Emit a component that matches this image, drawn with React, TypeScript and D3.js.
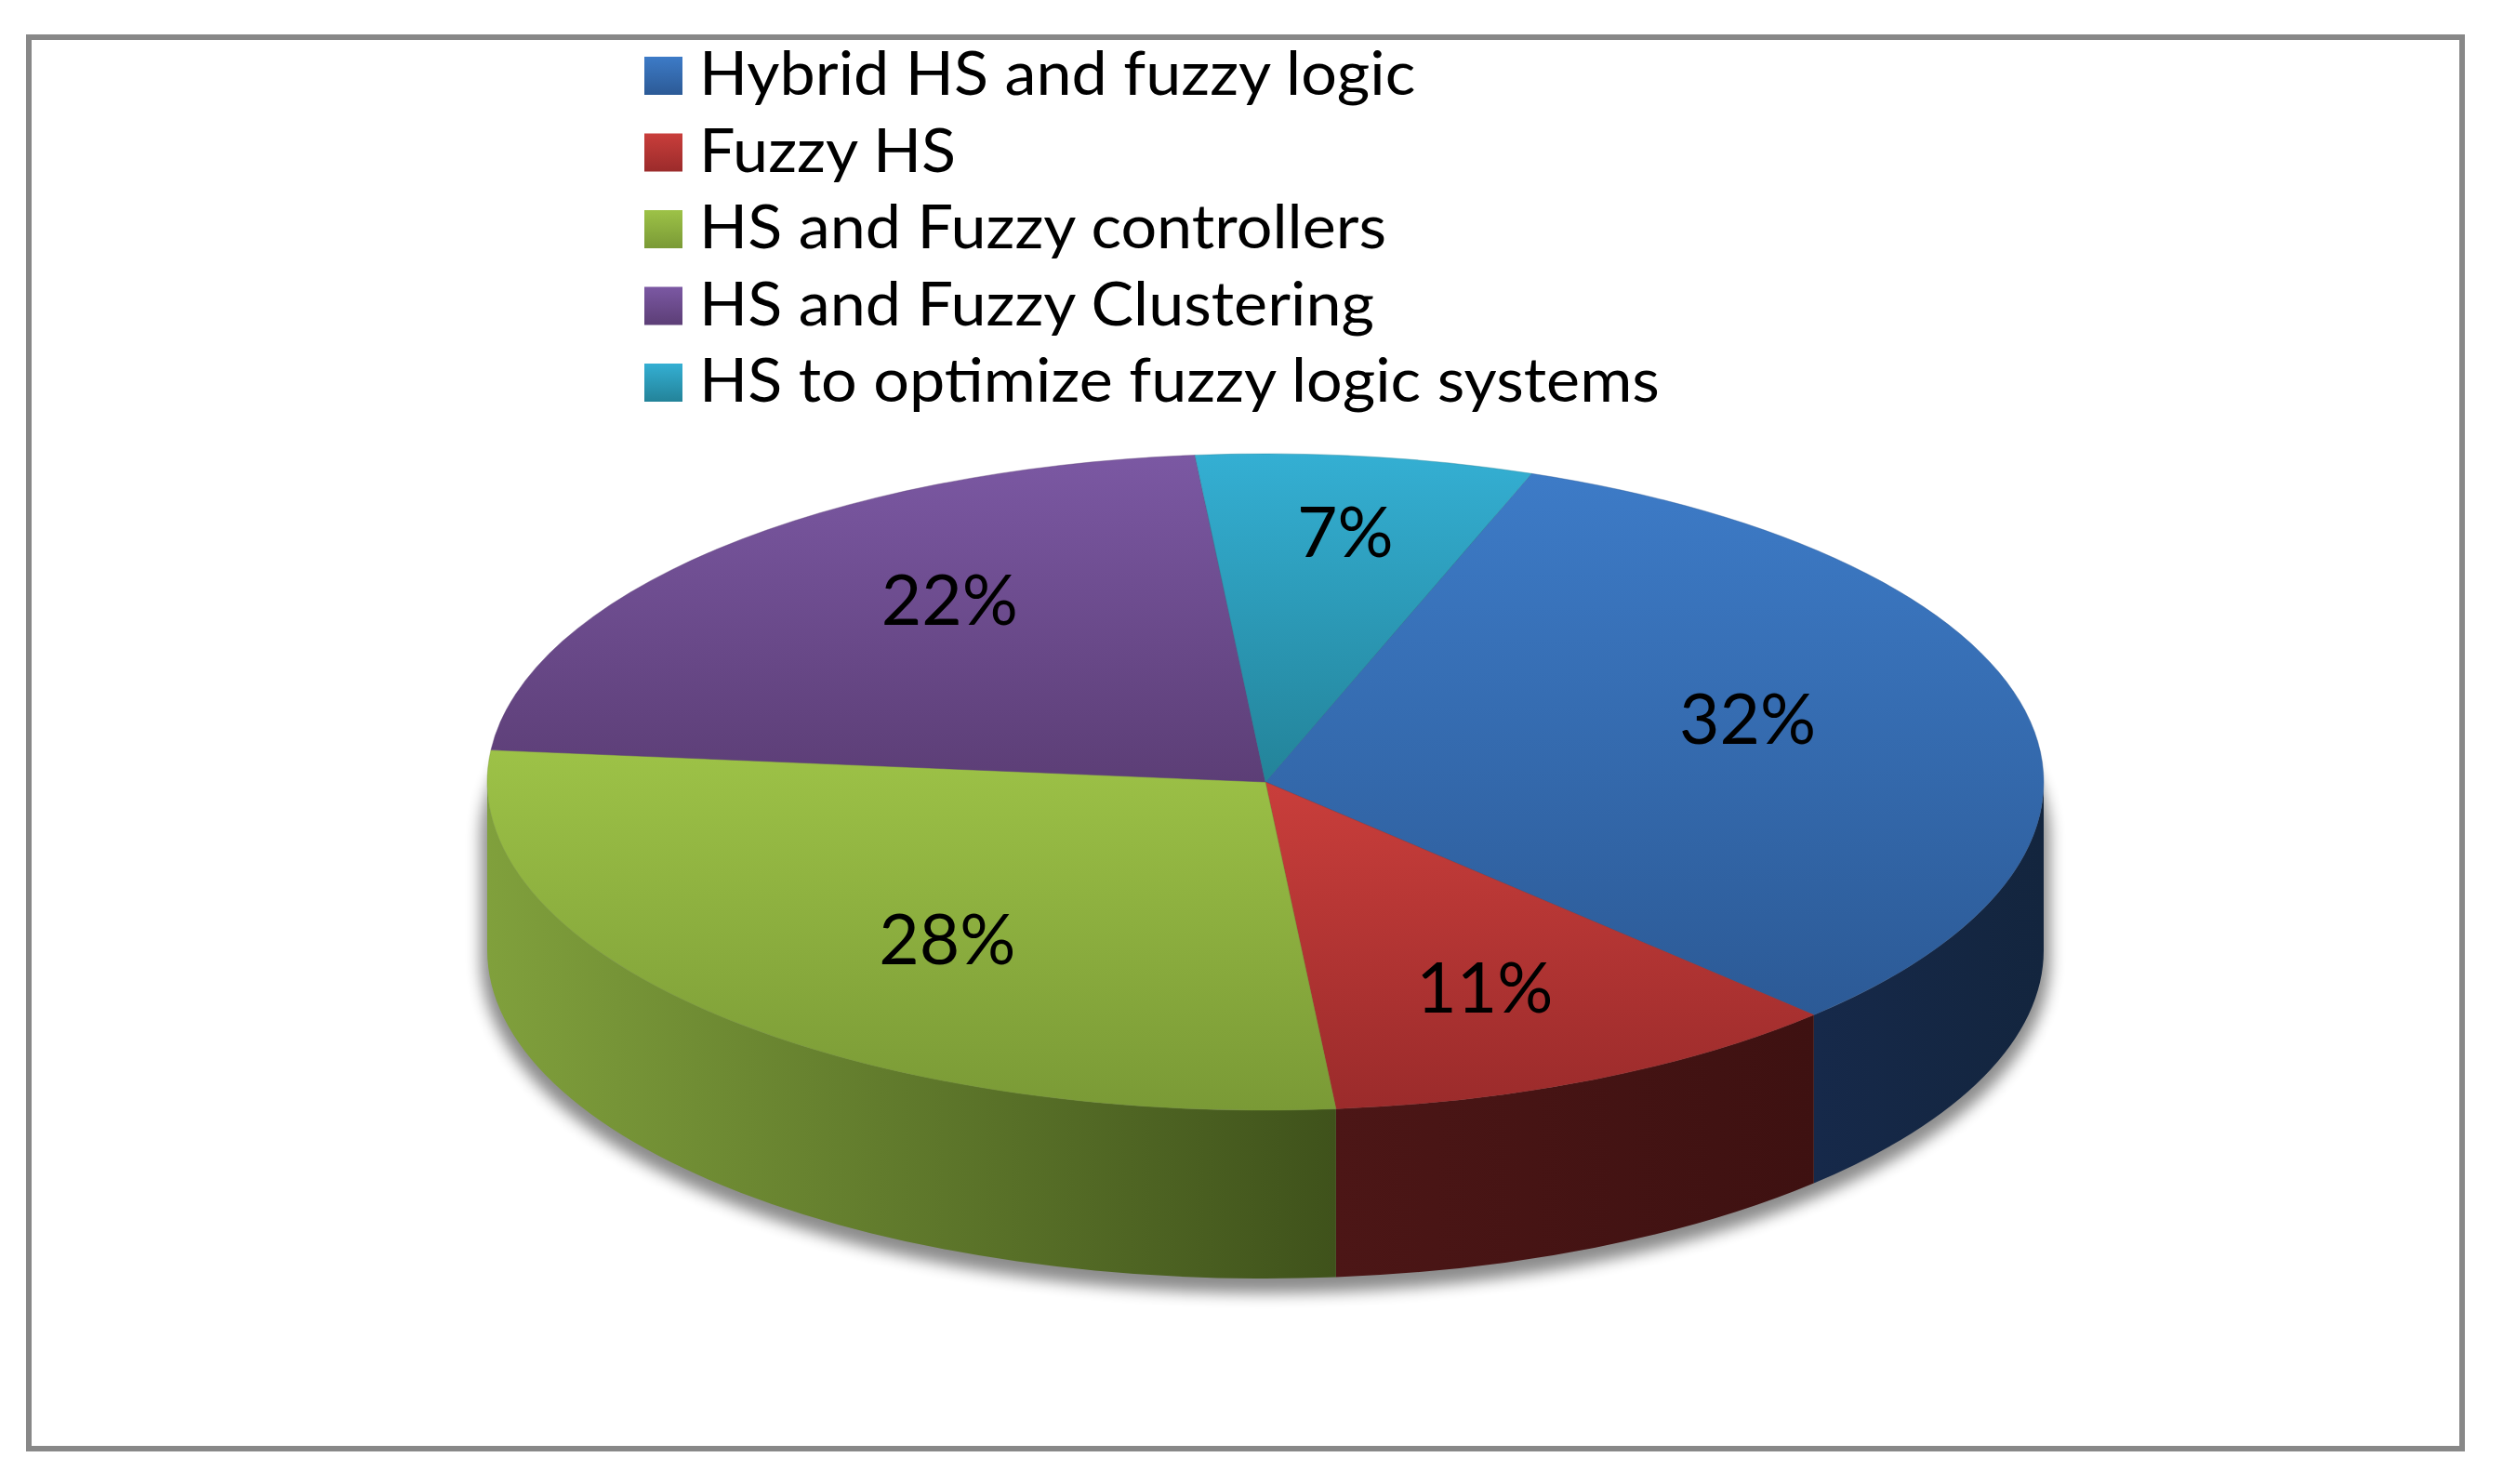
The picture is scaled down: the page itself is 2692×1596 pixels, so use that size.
import React from 'react';
import * as d3 from 'd3';

const width = 2692;
const height = 1596;

// chart data
const categories = [
  'Hybrid HS and fuzzy logic',
  'Fuzzy HS',
  'HS and Fuzzy controllers',
  'HS and Fuzzy Clustering',
  'HS to optimize fuzzy logic systems',
];
const values = [32, 11, 28, 22, 7];
const firstSliceAngle = 20; // degrees, clockwise from 12 o'clock

// styles (gradient stops: top -> bottom for faces, left -> right for sides)
const topColors = [
  ['#3d7bc7', '#2c5a96'],
  ['#c93e3b', '#9b2b2b'],
  ['#9dc247', '#7a9a36'],
  ['#7b58a3', '#5c3e76'],
  ['#34afd3', '#238399'],
];
const sideColors = [
  ['#16294a', '#13253e'],
  ['#4c1616', '#3e1111'],
  ['#80a03c', '#3f521b'],
  ['#5c3e76', '#4a3060'],
  ['#238399', '#1c6a7b'],
];

const cx = 1361;
const cy = 841;
const rx = 837;
const ry = 353;
const depth = 181;
const font = 'Lato, "Open Sans", sans-serif';

const toRad = (deg: number) => (deg * Math.PI) / 180;
const pt = (a: number, dy = 0) => [cx + rx * Math.sin(a), cy - ry * Math.cos(a) + dy];

// front wall of one slice between angles a0..a1 (radians)
const sidePath = (a0: number, a1: number) => {
  const [x0, y0] = pt(a0);
  const [x1, y1] = pt(a1);
  const large = a1 - a0 > Math.PI ? 1 : 0;
  return `M${x0},${y0}A${rx},${ry} 0 ${large} 1 ${x1},${y1}L${x1},${y1 + depth}A${rx},${ry} 0 ${large} 0 ${x0},${y0 + depth}Z`;
};

const App = () => {
  const start = toRad(firstSliceAngle);
  const arcs = d3
    .pie<number>()
    .sort(null)
    .startAngle(start)
    .endAngle(start + 2 * Math.PI)(values);

  const arcGen = d3.arc<d3.PieArcDatum<number>>().innerRadius(0).outerRadius(rx);

  const frontMin = Math.PI / 2;
  const frontMax = (3 * Math.PI) / 2;

  const legendX = 693;
  const legendY0 = 61;
  const legendStep = 82.5;
  const box = 41;

  return (
    <svg
      width={width}
      height={height}
      style={{ position: 'absolute', left: 0, top: 0, background: '#fff' }}
    >
      <defs>
        {topColors.map((c, i) => (
          <linearGradient key={'t' + i} id={'top' + i} x1="0" y1="0" x2="0" y2="1">
            <stop offset="0" stopColor={c[0]} />
            <stop offset="1" stopColor={c[1]} />
          </linearGradient>
        ))}
        {sideColors.map((c, i) => (
          <linearGradient key={'s' + i} id={'side' + i} x1="0" y1="0" x2="1" y2="0">
            <stop offset="0" stopColor={c[0]} />
            <stop offset="1" stopColor={c[1]} />
          </linearGradient>
        ))}
        <filter id="shadow" x="-10%" y="-10%" width="120%" height="130%">
          <feGaussianBlur stdDeviation="8" />
        </filter>
      </defs>

      <rect x={31} y={40} width={2617} height={1518} fill="none" stroke="#888" strokeWidth={6} />

      {/* soft shadow under the pie */}
      <path
        d={`M${cx - rx - 7},${cy + 60}A${rx + 7},${ry + 6} 0 0 1 ${cx + rx + 7},${cy + 60}L${cx + rx + 7},${cy + depth + 10}A${rx + 7},${ry + 6} 0 0 1 ${cx - rx - 7},${cy + depth + 10}Z`}
        fill="#000"
        opacity={0.45}
        filter="url(#shadow)"
      />

      {/* side walls */}
      {arcs.map((a, i) => {
        const a0 = Math.max(a.startAngle, frontMin);
        const a1 = Math.min(a.endAngle, frontMax);
        if (a1 <= a0) return null;
        return <path key={'w' + i} d={sidePath(a0, a1)} fill={`url(#side${i})`} />;
      })}

      {/* top faces */}
      <g transform={`translate(${cx},${cy}) scale(1,${ry / rx})`}>
        {arcs.map((a, i) => (
          <path
            key={'f' + i}
            d={arcGen(a) || ''}
            fill={`url(#top${i})`}
            stroke={topColors[i][1]}
            strokeWidth={1}
            strokeOpacity={0.4}
            vectorEffect="non-scaling-stroke"
          />
        ))}
      </g>

      {/* percentage labels */}
      {arcs.map((a, i) => {
        const mid = (a.startAngle + a.endAngle) / 2;
        const x = cx + 20 + 0.61 * rx * Math.sin(mid);
        const y = cy - 15 - 0.73 * ry * Math.cos(mid);
        return (
          <text
            key={'l' + i}
            x={x}
            y={y}
            textAnchor="middle"
            dominantBaseline="central"
            fontFamily={font}
            fontSize={75}
            fill="#000"
          >
            {`${values[i]}%`}
          </text>
        );
      })}

      {/* legend */}
      {categories.map((c, i) => {
        const y = legendY0 + i * legendStep;
        return (
          <g key={'g' + i}>
            <rect x={legendX} y={y} width={box} height={box} fill={`url(#top${i})`} />
            <text
              transform={`translate(${legendX + 59},${y + box}) scale(1.035,1)`}
              fontFamily={font}
              fontSize={66}
              fill="#000"
            >
              {c}
            </text>
          </g>
        );
      })}
    </svg>
  );
};

export default App;
